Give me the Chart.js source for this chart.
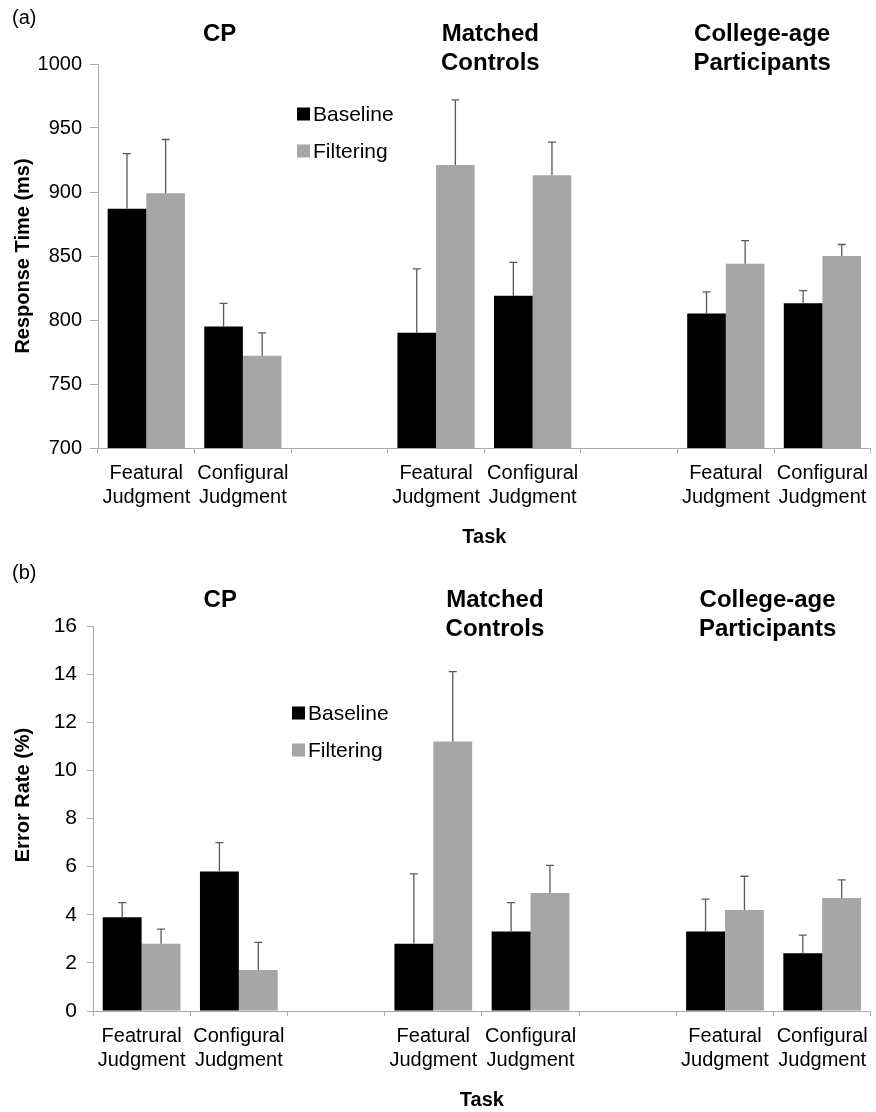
<!DOCTYPE html>
<html>
<head>
<meta charset="utf-8">
<script src="https://cdn.jsdelivr.net/npm/chart.js@4/dist/chart.umd.min.js"></script>
<style>
  html,body{margin:0;padding:0;background:#fff;}
  #wrap{position:relative;width:876px;height:1112px;}
  canvas{position:absolute;left:0;}
  #top{top:0;}
  #bottom{top:560px;}
</style>
</head>
<body>
<div id="wrap">
  <canvas id="top" width="876" height="560"></canvas>
  <canvas id="bottom" width="876" height="552"></canvas>
</div>
<script>
// slots: two tasks per group, blank slot between groups
const taskLabels=[['Featural','Judgment'],['Configural','Judgment'],'',['Featural','Judgment'],['Configural','Judgment'],'',['Featural','Judgment'],['Configural','Judgment']];
const taskLabelsB=[['Featrural','Judgment'],['Configural','Judgment'],'',['Featural','Judgment'],['Configural','Judgment'],'',['Featural','Judgment'],['Configural','Judgment']];
const groupNames=[['CP'],['Matched','Controls'],['College-age','Participants']];
const groupSlots=[[0,1],[3,4],[6,7]];
const seriesNames=['Baseline','Filtering'];

// (a) response time, ms
const rtBaseline=[887,795,null,790,819,null,805,813];
const rtFiltering=[899,772,null,921,913,null,844,850];
const rtBaselineErr=[43,18,null,50,26,null,17,10];
const rtFilteringErr=[42,18,null,51,26,null,18,9];
const rtTicks=[700,1000,50];

// (b) error rate, %
const erBaseline=[3.9,5.8,null,2.8,3.3,null,3.3,2.4];
const erFiltering=[2.8,1.7,null,11.2,4.9,null,4.2,4.7];
const erBaselineErr=[0.6,1.2,null,2.9,1.2,null,1.35,0.75];
const erFilteringErr=[0.6,1.15,null,2.9,1.15,null,1.4,0.75];
const erTicks=[0,16,2];

const FONT='"Liberation Sans", Arial, sans-serif';
const BLACK='#000', GRAY='#a6a6a6', AXIS='#ababab';

const overlay={
  id:'overlay',
  afterDatasetsDraw(chart,args,o){
    const ctx=chart.ctx, ys=chart.scales.y;
    o.errors.forEach((errs,di)=>{
      const meta=chart.getDatasetMeta(di);
      meta.data.forEach((bar,i)=>{
        const v=chart.data.datasets[di].data[i], e=errs[i];
        if(v==null||e==null) return;
        const top=ys.getPixelForValue(v+e);
        ctx.save();
        ctx.strokeStyle='#5a5a5a'; ctx.lineWidth=1.3;
        ctx.beginPath();
        ctx.moveTo(bar.x,bar.y); ctx.lineTo(bar.x,top);
        ctx.moveTo(bar.x-4,top); ctx.lineTo(bar.x+4,top);
        ctx.stroke(); ctx.restore();
      });
    });
  },
  afterDraw(chart,args,o){
    const ctx=chart.ctx, xs=chart.scales.x;
    ctx.save();
    ctx.fillStyle='#000'; ctx.textBaseline='middle';
    // panel letter
    ctx.font='20px '+FONT; ctx.textAlign='left';
    ctx.fillText(o.panel,12,o.panelY);
    // group titles
    ctx.font='bold 24px '+FONT; ctx.textAlign='center';
    groupNames.forEach((lines,g)=>{
      const cx=(xs.getPixelForValue(groupSlots[g][0])+xs.getPixelForValue(groupSlots[g][1]))/2+o.titleShift[g];
      lines.forEach((t,k)=>ctx.fillText(t,cx,o.titleY+k*29));
    });
    // legend
    ctx.font='21px '+FONT; ctx.textAlign='left';
    [BLACK,GRAY].forEach((c,k)=>{
      const yy=o.legend.y+k*o.legend.gap;
      ctx.fillStyle=c; ctx.fillRect(o.legend.x,yy-6.5,13,13);
      ctx.fillStyle='#000'; ctx.fillText(seriesNames[k],o.legend.x+16,yy+1);
    });
    // y title
    ctx.font='bold 20px '+FONT; ctx.textAlign='center';
    ctx.translate(23,o.yTitleY); ctx.rotate(-Math.PI/2);
    ctx.fillText(o.yTitle,0,0);
    ctx.restore();
  }
};

function makeChart(id,labels,base,filt,ticks,lay,ov){
  new Chart(document.getElementById(id),{
    type:'bar',
    data:{labels:labels,datasets:[
      {label:seriesNames[0],data:base,backgroundColor:BLACK,categoryPercentage:0.8,barPercentage:1.0},
      {label:seriesNames[1],data:filt,backgroundColor:GRAY,categoryPercentage:0.8,barPercentage:1.0}
    ]},
    options:{
      responsive:false,animation:false,
      layout:{padding:{top:lay.top,left:0,right:lay.right,bottom:0}},
      plugins:{legend:{display:false},tooltip:{enabled:false},overlay:ov},
      scales:{
        x:{
          afterFit:s=>{s.height=lay.xh;},
          grid:{offset:true,drawOnChartArea:false,tickLength:5,color:AXIS},
          border:{color:AXIS},
          ticks:{color:'#000',font:{family:FONT,size:20,lineHeight:1.2},padding:8,maxRotation:0,autoSkip:false},
          title:{display:true,text:'Task',color:'#000',font:{family:FONT,size:20,weight:'bold',lineHeight:1.2},padding:{top:0,bottom:lay.tpad}}
        },
        y:{
          afterFit:s=>{s.width=lay.yw;},
          min:ticks[0],max:ticks[1],
          grid:{drawOnChartArea:false,tickLength:lay.ytl,color:AXIS},
          border:{color:AXIS},
          ticks:{stepSize:ticks[2],color:'#000',font:{family:FONT,size:lay.yfs},padding:lay.ypad,callback:v=>String(v)}
        }
      }
    },
    plugins:[overlay]
  });
}

makeChart('top',taskLabels,rtBaseline,rtFiltering,rtTicks,
  {top:64,right:0,xh:112,tpad:11,yw:98,ytl:8,ypad:8,yfs:20},
  {errors:[rtBaselineErr,rtFilteringErr],panel:'(a)',panelY:18,titleShift:[25,6,-12],titleY:34,
   legend:{x:297,y:114,gap:37},yTitle:'Response Time (ms)',yTitleY:256});

makeChart('bottom',taskLabelsB,erBaseline,erFiltering,erTicks,
  {top:66,right:3,xh:101,tpad:0,yw:93,ytl:6,ypad:10,yfs:21},
  {errors:[erBaselineErr,erFilteringErr],panel:'(b)',panelY:13,titleShift:[30,13,-6],titleY:40,
   legend:{x:292,y:153,gap:37},yTitle:'Error Rate (%)',yTitleY:235});
</script>
</body>
</html>
